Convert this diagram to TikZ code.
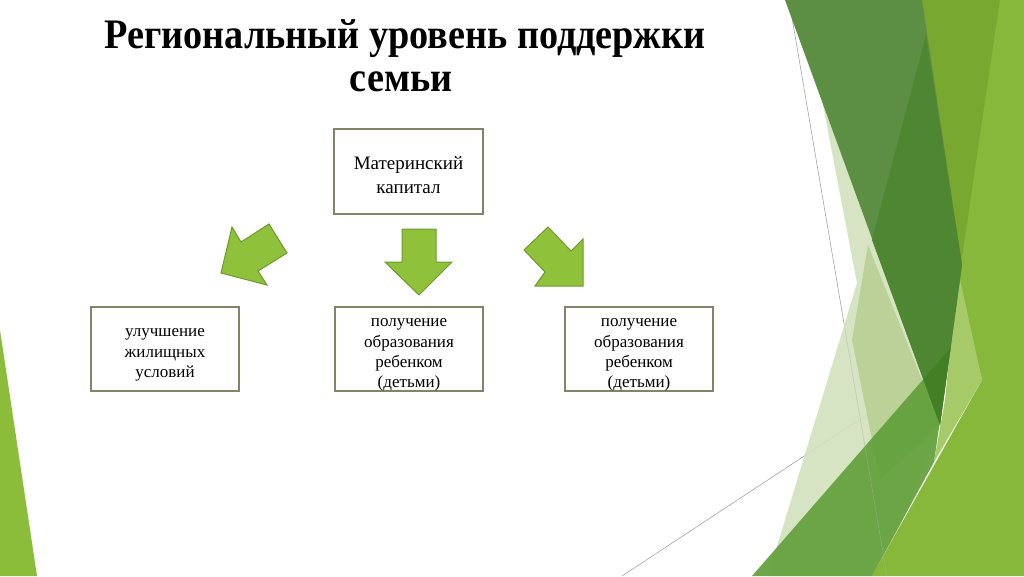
\documentclass[tikz,border=0pt]{standalone}
\usepackage{fontspec}
\setmainfont{Liberation Serif}
\definecolor{boxline}{HTML}{838367}
\definecolor{arrfill}{HTML}{8FC13A}
\definecolor{arrline}{HTML}{6C9A2B}
\definecolor{paleA}{HTML}{D3E2BD}
\definecolor{paleB}{HTML}{B8D093}
\definecolor{olive}{HTML}{79A830}
\definecolor{bright}{HTML}{88B83B}
\definecolor{lband}{HTML}{A6CA68}
\definecolor{darkA}{HTML}{5C8F43}
\definecolor{darkB}{HTML}{4F8632}
\definecolor{midg}{HTML}{62A03B}
\definecolor{deep}{HTML}{437F25}
\definecolor{leftg}{HTML}{8CBD3A}
\tikzset{
  infobox/.style={draw=boxline, line width=1.6pt, fill=white, minimum width=148pt, minimum height=84pt, inner sep=0pt},
  boxtext/.style={align=center, font=\fontsize{17}{20.4}\selectfont, inner sep=0pt},
  titletext/.style={anchor=base, inner sep=0pt, font=\bfseries\fontsize{42}{48}\selectfont},
  blockarrow/.style={fill=arrfill, draw=arrline, line width=1pt, line join=miter},
  thinline/.style={draw=black!35, line width=0.6pt},
}
\begin{document}
\begin{tikzpicture}[x=1pt,y=-1pt]
\useasboundingbox (0,0) rectangle (1024,576);
\fill[white] (0,0) rectangle (1024,576);
% background decoration
\draw[thinline] (789,0) -- (887,576);
\draw[thinline] (622,576) -- (950,360);
\fill[paleA, opacity=0.9] (822,100) -- (857,283) -- (768,576) -- (880,576) -- (940,425) -- cycle;
\fill[paleB, opacity=0.9] (868,245) -- (940,425) -- (880,480) -- (852,340) -- cycle;
\fill[olive] (918,0) -- (1002,0) -- (960,300) -- cycle;
\fill[bright] (1000,0) -- (1024,0) -- (1024,576) -- (872,576) -- (982,380) -- (958,285) -- cycle;
\fill[lband] (958,270) -- (982,380) -- (934,462) -- (945,400) -- cycle;
\fill[darkA] (785,0) -- (922,0) -- (962,265) -- (940,425) -- cycle;
\fill[darkB] (926,35) -- (962,265) -- (940,425) -- (872,240) -- cycle;
\fill[midg, opacity=0.92] (752,576) -- (950.5,348) -- (934,462) -- (872,576) -- cycle;
\fill[deep] (923,379) -- (950.5,348) -- (940,425) -- cycle;
\draw[black!30, line width=0.5pt, opacity=0.5] (845,330) -- (887,576);
\fill[leftg] (0,330) -- (0,576) -- (37,576) -- cycle;
% title
\node[titletext] (t1) at (405,48) {\scalebox{0.91}[1]{Региональный уровень поддержки}};
\node[titletext] (t2) at (401,91) {\scalebox{0.91}[1]{семьи}};
% boxes
\node[infobox, minimum width=149pt, minimum height=85pt] (top) at (408.5,171.5) {};
\node[boxtext, font=\fontsize{19}{24}\selectfont] (toptext) at (408.5,175) {Материнский\\капитал};
\node[infobox] (left) at (165,349) {};
\node[boxtext] (lefttext) at (165,355) {улучшение\\жилищных\\условий};
\node[infobox] (mid) at (409,349) {};
\node[boxtext] (midtext) at (409,355) {получение\\образования\\ребенком\\(детьми)};
\node[infobox] (right) at (639,349) {};
\node[boxtext] (righttext) at (639,355) {получение\\образования\\ребенком\\(детьми)};
% block arrows
\filldraw[blockarrow] (221,273) -- (232,227) -- (241,242) -- (269,224) -- (287,253) -- (258,271) -- (267,285) -- cycle;
\filldraw[blockarrow] (402,229) -- (436,229) -- (436,262) -- (452,262) -- (419,295) -- (385,262) -- (402,262) -- cycle;
\filldraw[blockarrow] (548,227) -- (571,251) -- (583,239) -- (583,286) -- (535,286) -- (545,272) -- (524,250) -- cycle;
\end{tikzpicture}
\end{document}
